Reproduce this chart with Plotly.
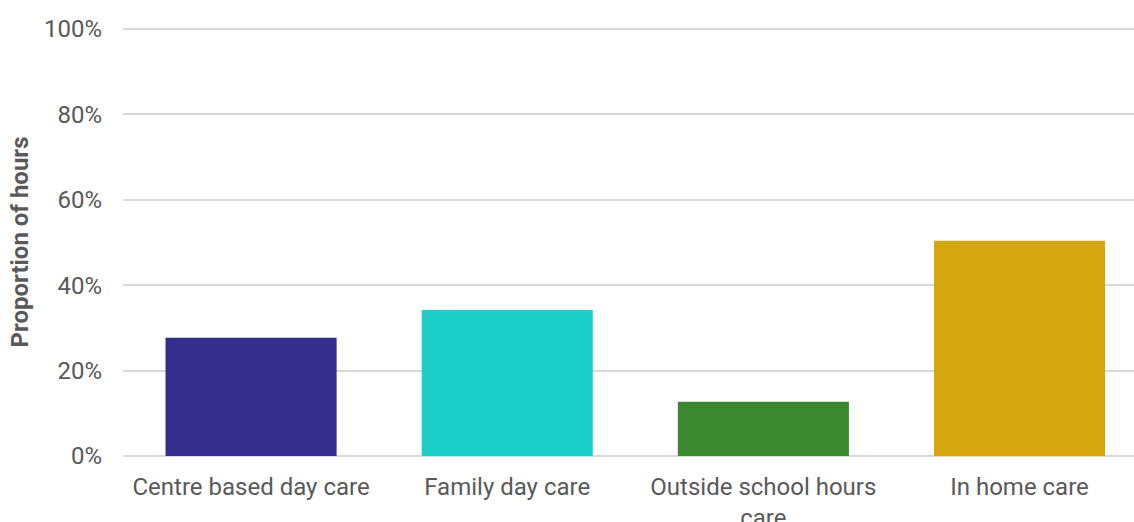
import plotly.graph_objects as go

categories = ["Centre based day care", "Family day care", "Outside school hours<br>care", "In home care"]
values = [27.7, 34.2, 12.7, 50.4]
colors = ["#352D8A", "#1DCFC9", "#3A8830", "#D4A70E"]
y_ticks = [0, 20, 40, 60, 80, 100]
y_ticklabels = ["0%", "20%", "40%", "60%", "80%", "100%"]

fig = go.Figure(go.Bar(x=categories, y=values, marker=dict(color=colors, line=dict(width=0)),
                       hoverinfo="skip"))

fig.update_layout(
    width=1134, height=522,
    margin=dict(l=123, r=0, t=28, b=66),
    paper_bgcolor="white", plot_bgcolor="white",
    font=dict(family="Roboto", color="#595959", size=24),
    bargap=0.332,
    showlegend=False,
)
fig.update_xaxes(range=[-0.5, 3.447], showgrid=False, showline=False, zeroline=False,
                 automargin=False,
                 ticks="", ticklabelstandoff=14, tickfont=dict(size=24, color="#595959"))
fig.update_yaxes(range=[0, 100.25], tickvals=y_ticks, ticktext=y_ticklabels,
                 automargin=False,
                 showgrid=True, gridcolor="#D9D9D9", gridwidth=1.5,
                 zeroline=True, zerolinecolor="#D9D9D9", zerolinewidth=1.5,
                 showline=False, ticks="", ticklabelstandoff=20,
                 tickfont=dict(size=24, color="#595959"),
                 title=dict(text="<b>Proportion of hours</b>", font=dict(size=24, color="#595959"), standoff=8))

fig.write_html("out.html", config={"displayModeBar": False},
               post_script="document.body.style.margin='0';document.body.style.overflow='hidden';")
